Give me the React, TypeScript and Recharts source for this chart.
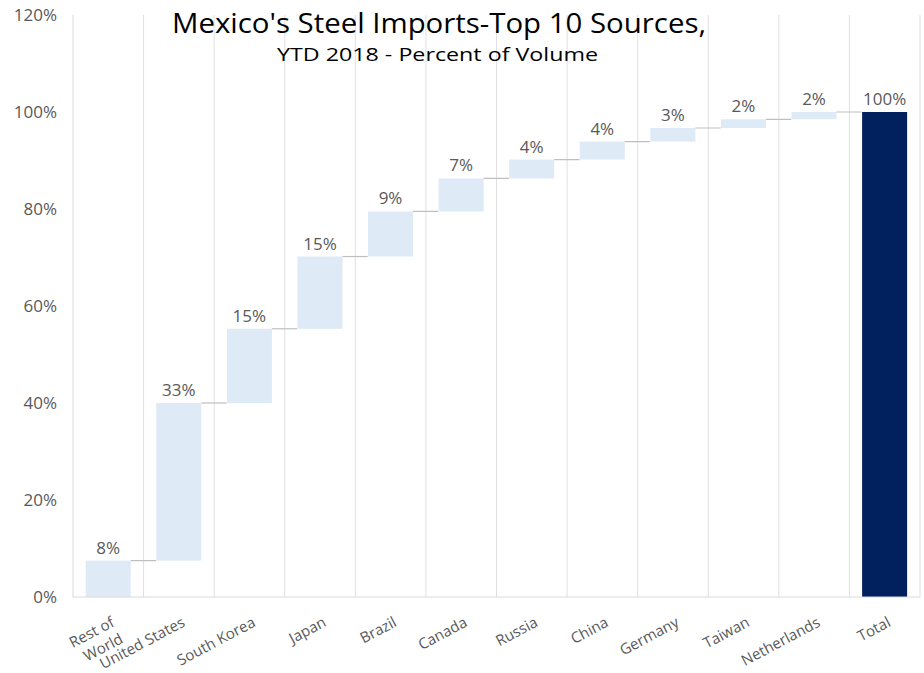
import React from "react";
import { BarChart, Bar, XAxis, YAxis, CartesianGrid, LabelList } from "recharts";

const categories = [
  "Rest of World",
  "United States",
  "South Korea",
  "Japan",
  "Brazil",
  "Canada",
  "Russia",
  "China",
  "Germany",
  "Taiwan",
  "Netherlands",
  "Total",
];
// percent of volume for each source (increments)
const shares = [7.5, 32.5, 15.3, 14.9, 9.3, 6.8, 3.9, 3.7, 2.8, 1.8, 1.5];
const totalShare = 100;
const yTicks = [0, 20, 40, 60, 80, 100, 120];
const xTickLines = [
  ["Rest of", "World"],
  ["United States"],
  ["South Korea"],
  ["Japan"],
  ["Brazil"],
  ["Canada"],
  ["Russia"],
  ["China"],
  ["Germany"],
  ["Taiwan"],
  ["Netherlands"],
  ["Total"],
];

const LIGHT = "#deeaf6";
const NAVY = "#00205e";
const TEXT = "#595959";
const FONT = "'Open Sans', sans-serif";
const GAP_PCT = 0.18;

let cum = 0;
const data = categories.map((name, i) => {
  if (i < shares.length) {
    const low = cum;
    cum = cum + shares[i];
    return { name, range: [low, cum], label: Math.round(shares[i]) + "%", isTotal: false, idx: i };
  }
  return { name, range: [0, totalShare], label: totalShare + "%", isTotal: true, idx: i };
});

const WaterfallShape = (props: any) => {
  const { x, y, width, height, payload } = props;
  const top = Math.min(y, y + height);
  const h = Math.abs(height);
  const isTotal = payload && payload.isTotal;
  const gap = (width * (2 * GAP_PCT)) / (1 - 2 * GAP_PCT);
  return (
    <g>
      <rect x={x} y={top} width={width} height={h} fill={isTotal ? NAVY : LIGHT} />
      {!isTotal && (
        <line x1={x + width} x2={x + width + gap} y1={top} y2={top} stroke="#bfbfbf" strokeWidth={1.2} />
      )}
    </g>
  );
};

const TopLabel = (props: any) => {
  const { x, y, width, height, value } = props;
  const top = Math.min(y, y + height);
  return (
    <text x={x + width / 2} y={top - 7} textAnchor="middle" fill={TEXT} fontSize={17} fontFamily={FONT}>
      {value}
    </text>
  );
};

const XTick = (props: any) => {
  const { x, y, payload, index } = props;
  const lines = xTickLines[index] || [String(payload.value)];
  return (
    <g transform={`translate(${x + 2},${y})`}>
      <text transform="rotate(-28)" textAnchor="end" fill={TEXT} fontSize={15} fontFamily={FONT}>
        {lines.map((l: string, i: number) => (
          <tspan key={i} x={0} dy={i === 0 ? "0.72em" : "1.25em"}>
            {l}
          </tspan>
        ))}
      </text>
    </g>
  );
};

const verticalGen = (props: any) => {
  const off = props && props.offset;
  const left = off ? off.left : 73;
  const w = off ? off.width : 847;
  const n = categories.length;
  const pts: number[] = [];
  for (let i = 1; i <= n; i++) pts.push(left + (i * w) / n);
  return pts;
};

export default function App() {
  return (
    <div style={{ position: "absolute", left: 0, top: 0, width: 924, height: 673, background: "#fff" }}>
      <BarChart
        width={924}
        height={673}
        data={data}
        margin={{ top: 15, right: 4, bottom: 0, left: 0 }}
        barCategoryGap={`${GAP_PCT * 100}%`}
      >
        <CartesianGrid horizontal={false} vertical={true} stroke="#e0e0e0" verticalCoordinatesGenerator={verticalGen} />
        <XAxis
          dataKey="name"
          height={76}
          interval={0}
          tickLine={false}
          tickSize={6}
          tickMargin={13}
          axisLine={{ stroke: "#d9d9d9" }}
          tick={<XTick />}
        />
        <YAxis
          width={73}
          domain={[0, 120]}
          ticks={yTicks}
          tickFormatter={(v: number) => v + "%"}
          tickLine={false}
          tickSize={6}
          tickMargin={10}
          axisLine={{ stroke: "#d9d9d9" }}
          tick={{ fill: TEXT, fontSize: 17, fontFamily: FONT }}
          allowDataOverflow
        />
        <Bar dataKey="range" shape={<WaterfallShape />} isAnimationActive={false}>
          <LabelList dataKey="label" content={<TopLabel />} />
        </Bar>
      </BarChart>
      <svg
        width={924}
        height={80}
        style={{ position: "absolute", left: 0, top: 0, pointerEvents: "none" }}
      >
        <text x={439} y={33} textAnchor="middle" fontSize={27} fontFamily={FONT} fill="#000" textLength={534} lengthAdjust="spacingAndGlyphs">
          Mexico's Steel Imports-Top 10 Sources,
        </text>
        <text x={437.5} y={61} textAnchor="middle" fontSize={19} fontFamily={FONT} fill="#000" textLength={321} lengthAdjust="spacingAndGlyphs">
          YTD 2018 - Percent of Volume
        </text>
      </svg>
    </div>
  );
}
